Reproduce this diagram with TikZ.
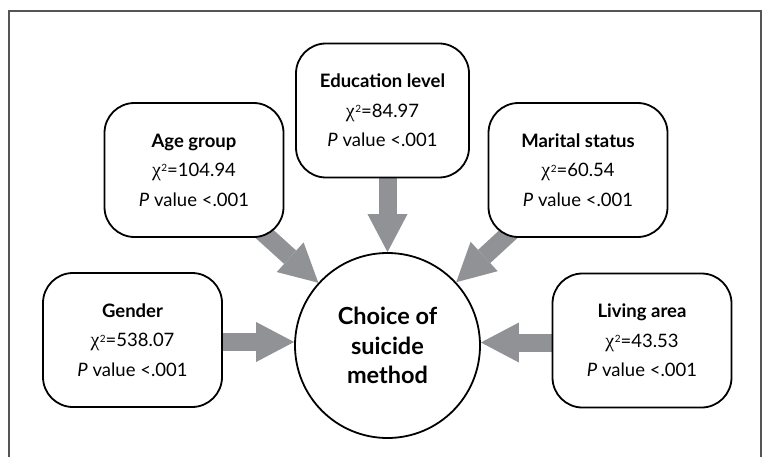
\documentclass[tikz,border=0pt]{standalone}
\usepackage{fontspec}
\setmainfont{Lato}
\newfontfamily\chifont{Liberation Serif}
\usetikzlibrary{arrows.meta}
\pgfdeclarelayer{bg}
\pgfsetlayers{bg,main}
\definecolor{arrowgray}{RGB}{145,146,150}
\definecolor{framegray}{RGB}{85,85,85}
\newcommand{\chisq}[1]{{\chifont\fontsize{20}{20}\selectfont χ}\kern0.5pt\raisebox{0.5ex}{\fontsize{10}{10}\selectfont 2}=#1}
\tikzset{
  factor/.style={draw=black, line width=1.8pt, rounded corners=30pt, fill=white,
    minimum width=179pt, minimum height=134pt, align=center, inner sep=0pt,
    font=\fontsize{18.5}{29.5}\selectfont},
  outcome/.style={draw=black, line width=1.8pt, circle, fill=white, minimum size=185pt,
    inner sep=0pt, align=center, font=\bfseries\fontsize{23.5}{29.5}\selectfont},
  blockarrow/.style={draw=arrowgray, line width=18pt,
    -{Triangle[length=38pt, width=40pt, line width=0pt]}},
  frameline/.style={draw=framegray, line width=1.6pt}
}
\begin{document}
\begin{tikzpicture}[x=1pt, y=-1pt]
\useasboundingbox (0,0) rectangle (765,457);
\draw[frameline] (9,457) -- (9,11) -- (761,11) -- (761,457);

\node[outcome] (c) at (387.5,345.5) {Choice of\\suicide\\method};
\node[factor] (age) at (194,170) {\textbf{Age group}\\\chisq{104.94}\\\textit{P} value <.001};
\node[factor, minimum width=173pt] (edu) at (382.5,110.5) {\textbf{Education level}\\\chisq{84.97}\\\textit{P} value <.001};
\node[factor] (mar) at (578,170) {\textbf{Marital status}\\\chisq{60.54}\\\textit{P} value <.001};
\node[factor] (gen) at (132.5,340) {\textbf{Gender}\\\chisq{538.07}\\\textit{P} value <.001};
\node[factor] (liv) at (642,340.5) {\textbf{Living area}\\\chisq{43.53}\\\textit{P} value <.001};

\begin{pgfonlayer}{bg}
\draw[blockarrow] (age.center) -- (c);
\draw[blockarrow] (mar.center) -- (c);
\draw[blockarrow] (c.north |- edu.south) -- (c.north);
\draw[blockarrow] ([yshift=-2pt]gen.east) -- ([yshift=-2pt]gen.east -| c.west);
\draw[blockarrow] ([yshift=-2pt]liv.west) -- ([yshift=-2pt]liv.west -| c.east);
\end{pgfonlayer}
\end{tikzpicture}
\end{document}
